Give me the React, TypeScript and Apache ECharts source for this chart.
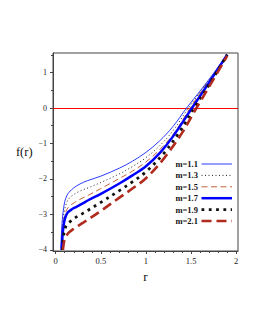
import React, { useEffect, useRef } from "react";
import * as echarts from "echarts";

// m = 1.1
const r11 = [0.056, 0.062, 0.07, 0.081, 0.1, 0.125, 0.15, 0.2, 0.27, 0.35, 0.5, 0.71, 0.85, 1.0, 1.15, 1.3, 1.45, 1.6, 1.75, 1.9];
const f11 = [-4, -3.6, -3.25, -2.95, -2.64, -2.46, -2.37, -2.25, -2.14, -2.05, -1.92, -1.69, -1.5, -1.25, -0.93, -0.52, 0, 0.48, 0.98, 1.5];
// m = 1.3
const r13 = [0.06, 0.067, 0.076, 0.088, 0.105, 0.13, 0.16, 0.2, 0.27, 0.36, 0.5, 0.71, 0.85, 1.0, 1.15, 1.3, 1.47, 1.6, 1.75, 1.9];
const f13 = [-4, -3.62, -3.3, -3.02, -2.8, -2.62, -2.52, -2.44, -2.34, -2.25, -2.1, -1.85, -1.65, -1.4, -1.07, -0.64, 0, 0.45, 0.96, 1.5];
// m = 1.5
const r15 = [0.064, 0.071, 0.081, 0.094, 0.112, 0.14, 0.17, 0.21, 0.28, 0.36, 0.5, 0.71, 0.85, 1.0, 1.15, 1.3, 1.49, 1.6, 1.75, 1.9];
const f15 = [-4, -3.65, -3.35, -3.1, -2.92, -2.8, -2.73, -2.66, -2.56, -2.46, -2.27, -1.98, -1.78, -1.52, -1.18, -0.75, 0, 0.42, 0.95, 1.5];
// m = 1.7
const r17 = [0.068, 0.075, 0.085, 0.1, 0.12, 0.14, 0.17, 0.21, 0.25, 0.3, 0.36, 0.5, 0.71, 0.85, 1.0, 1.16, 1.3, 1.51, 1.7, 1.9];
const f17 = [-4, -3.62, -3.36, -3.14, -3.0, -2.93, -2.87, -2.81, -2.76, -2.69, -2.6, -2.42, -2.12, -1.9, -1.64, -1.25, -0.8, 0, 0.72, 1.5];
// m = 1.9
const r19 = [0.074, 0.082, 0.093, 0.11, 0.13, 0.156, 0.2, 0.25, 0.3, 0.36, 0.5, 0.71, 0.85, 1.0, 1.2, 1.37, 1.535, 1.7, 1.9];
const f19 = [-4, -3.7, -3.5, -3.35, -3.27, -3.21, -3.12, -3.04, -2.97, -2.88, -2.66, -2.32, -2.08, -1.8, -1.27, -0.68, 0, 0.66, 1.5];
// m = 2.1
const r21 = [0.08, 0.09, 0.1, 0.118, 0.15, 0.19, 0.25, 0.3, 0.36, 0.5, 0.71, 0.85, 1.0, 1.2, 1.4, 1.56, 1.73, 1.9];
const f21 = [-4, -3.8, -3.7, -3.6, -3.5, -3.42, -3.32, -3.24, -3.14, -2.9, -2.52, -2.27, -1.98, -1.42, -0.7, 0, 0.73, 1.47];

const legendLabels = ["m=1.1", "m=1.3", "m=1.5", "m=1.7", "m=1.9", "m=2.1"];
const xTicks = [0, 0.5, 1, 1.5, 2];
const xMinorTicks = [0.1, 0.2, 0.3, 0.4, 0.6, 0.7, 0.8, 0.9, 1.1, 1.2, 1.3, 1.4, 1.6, 1.7, 1.8, 1.9];
const yTicks = [-4, -3, -2, -1, 0, 1];
const yMinorTicks = [-3.5, -2.5, -1.5, -0.5, 0.5, 1.5];

const SERIF = "'Liberation Serif', 'DejaVu Serif', serif";

const curves = [
  { r: r11, f: f11, color: "#2a3cff", width: 1, dash: null as any },
  { r: r13, f: f13, color: "#222222", width: 1, dash: [1, 2.5] },
  { r: r15, f: f15, color: "#c4623a", width: 1, dash: [6, 3.5] },
  { r: r17, f: f17, color: "#0000ff", width: 2.5, dash: null as any },
  { r: r19, f: f19, color: "#111111", width: 2.8, dash: [2.8, 4.5] },
  { r: r21, f: f21, color: "#b02a1e", width: 2.6, dash: [10, 5] },
];

const fmt = (v: number) => String(v).replace("-", "\u2212");

export default function App() {
  const ref = useRef<HTMLDivElement>(null);
  useEffect(() => {
    if (!ref.current) return;
    const chart = echarts.init(ref.current, undefined, { renderer: "svg" });
    const series: any[] = curves.map((c, i) => ({
      name: legendLabels[i],
      type: "line",
      data: c.r.map((x, k) => [x, c.f[k]]),
      symbol: "none",
      smooth: 0.35,
      clip: true,
      lineStyle: { color: c.color, width: c.width, type: c.dash || "solid" },
      itemStyle: { color: c.color },
      z: 3,
      ...(i === 0
        ? {
            markLine: {
              silent: true,
              symbol: ["none", "none"],
              label: { show: false },
              lineStyle: { color: "#ff0000", width: 1, type: "solid" },
              data: [{ yAxis: 0 }],
              z: 2,
            },
          }
        : {}),
    }));

    const legendTop = 164;
    const legendStep = 11.4;
    const graphic: any[] = [];
    curves.forEach((c, i) => {
      const y = legendTop + i * legendStep;
      graphic.push({
        type: "text",
        x: 198,
        y,
        style: {
          text: legendLabels[i],
          fontFamily: SERIF,
          fontWeight: "bold",
          fontSize: 8.5,
          fill: "#111",
          align: "right",
          verticalAlign: "middle",
        },
      });
      graphic.push({
        type: "line",
        shape: { x1: 201.5, y1: y, x2: 232, y2: y },
        style: {
          stroke: c.color,
          lineWidth: c.width,
          lineDash: c.dash || undefined,
        },
      });
    });

    chart.setOption({
      animation: false,
      backgroundColor: "#ffffff",
      grid: {
        left: 53,
        top: 53,
        width: 185,
        height: 198,
        show: true,
        borderColor: "#444",
        borderWidth: 1,
        backgroundColor: "transparent",
      },
      graphic,
      xAxis: [
        {
          type: "value",
          min: -0.03,
          max: 2.02,
          position: "bottom",
          name: "r",
          nameLocation: "middle",
          nameGap: 11,
          nameTextStyle: { fontFamily: SERIF, fontSize: 13, color: "#111" },
          axisLine: { onZero: false, lineStyle: { color: "#444" } },
          axisTick: { customValues: xTicks, length: 3, lineStyle: { color: "#444" } },
          axisLabel: { customValues: xTicks, formatter: fmt, fontFamily: SERIF, fontSize: 8.5, color: "#222", margin: 5 },
          splitLine: { show: false },
        },
        {
          type: "value",
          min: -0.03,
          max: 2.02,
          position: "bottom",
          axisLine: { show: false, onZero: false },
          axisTick: { customValues: xMinorTicks, length: 2, lineStyle: { color: "#444" } },
          axisLabel: { show: false },
          splitLine: { show: false },
        },
      ],
      yAxis: [
        {
          type: "value",
          min: -4.03,
          max: 1.55,
          position: "left",
          name: "f(r)",
          nameLocation: "middle",
          nameRotate: 0,
          nameGap: 20,
          nameTextStyle: { fontFamily: SERIF, fontSize: 12.5, color: "#111" },
          axisLine: { onZero: false, lineStyle: { color: "#444" } },
          axisTick: { customValues: yTicks, length: 3, lineStyle: { color: "#444" } },
          axisLabel: { customValues: yTicks, formatter: fmt, fontFamily: SERIF, fontSize: 8, color: "#222", margin: 6 },
          splitLine: { show: false },
        },
        {
          type: "value",
          min: -4.03,
          max: 1.55,
          position: "left",
          axisLine: { show: false, onZero: false },
          axisTick: { customValues: yMinorTicks, length: 2, lineStyle: { color: "#444" } },
          axisLabel: { show: false },
          splitLine: { show: false },
        },
      ],
      series,
    });
    return () => chart.dispose();
  }, []);
  return (
    <div
      ref={ref}
      style={{ position: "fixed", left: 0, top: 0, width: 258, height: 333, background: "#fff" }}
    />
  );
}
